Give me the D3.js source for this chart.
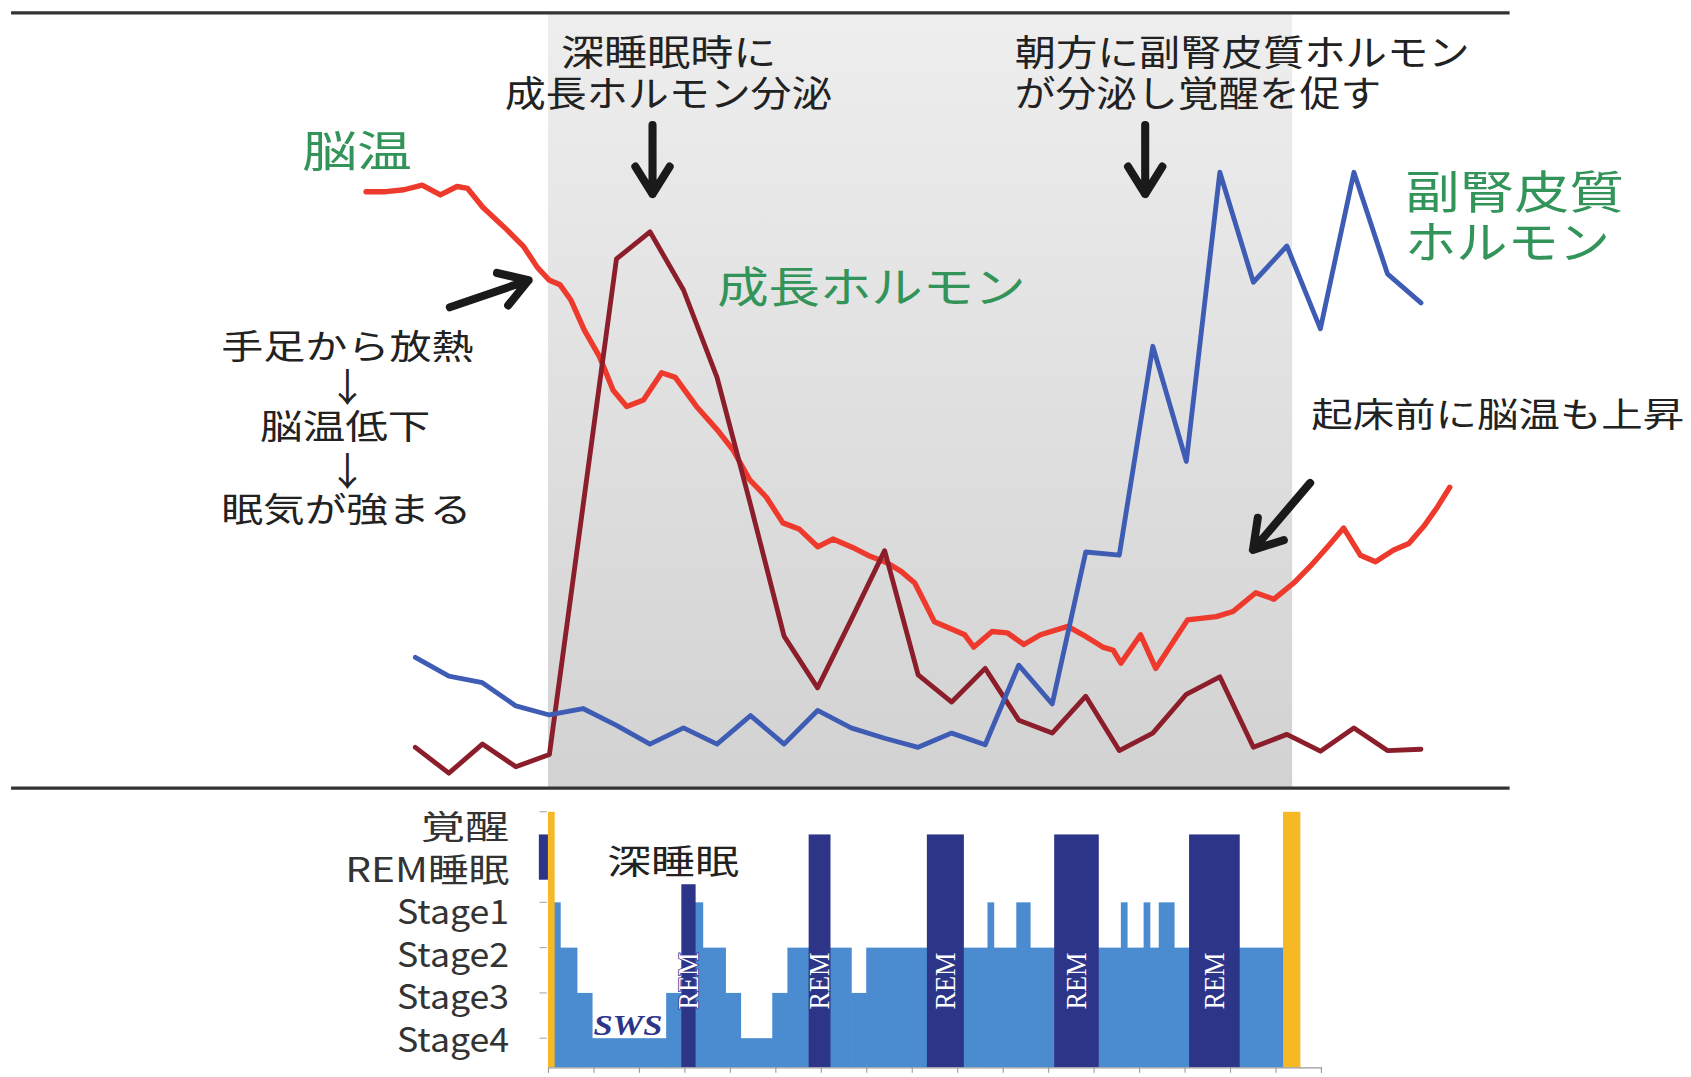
<!DOCTYPE html>
<html>
<head>
<meta charset="utf-8">
<script src="https://cdn.jsdelivr.net/npm/d3@7"></script>
<style>
  body { margin: 0; background: #fff; }
  svg { display: block; }
</style>
</head>
<body>
<svg></svg>
<script>
const width = 1568;
const height = 999;

// hormone samples, evenly spaced (index 0..30), relative level 0-100
const growthHormone = [6.3, 2.3, 6.8, 3.3, 5.2, 43.5, 81.8, 86.0, 77.0, 63.5, 43.8, 23.5, 15.5, 26.0, 36.7,
    17.5, 13.3, 18.5, 10.5, 8.5, 14.2, 5.8, 8.5, 14.5, 17.2, 6.3, 8.3, 5.7, 9.3, 5.8, 6.0];
const cortisol = [20.2, 17.3, 16.3, 12.7, 11.3, 12.3, 9.7, 6.8, 9.3, 6.8, 11.2, 6.8, 12.0, 9.3, 7.7,
    6.3, 8.5, 6.7, 19.0, 13.0, 36.5, 36.0, 68.3, 50.5, 95.2, 78.2, 83.8, 71.0, 95.2, 79.5, 75.0];

// brain temperature: minutes from sleep onset, relative level
const brainTempTime = [-120, -107, -95, -83, -71, -60, -53, -43, -27, -16, -7, 1, 8, 15, 24, 34, 43, 52, 63, 75,
    84, 98, 112, 122, 133, 144, 155, 166, 178, 188, 201, 211, 224, 233, 242, 249, 255, 265, 275, 281,
    293, 303, 314, 325, 343, 353, 366, 373, 378, 391, 401, 422, 441, 452, 467, 479, 492, 503, 514, 525,
    536, 546, 558, 568, 578, 587, 595];
const brainTemp = [92.2, 92.2, 92.5, 93.2, 91.7, 93.0, 92.7, 89.8, 86.3, 83.7, 80.5, 78.5, 77.8, 75.5, 70.8, 66.7, 61.5, 59.0, 60.0, 64.2,
    63.5, 59.0, 55.3, 52.3, 47.7, 45.0, 41.0, 40.0, 37.3, 38.5, 37.2, 36.0, 34.8, 33.5, 31.7, 28.5, 25.7, 24.7, 23.7, 21.8,
    24.2, 24.0, 22.2, 23.7, 25.0, 23.7, 21.8, 21.3, 19.3, 23.7, 18.5, 26.0, 26.5, 27.3, 30.2, 29.2, 31.7, 34.3, 37.2, 40.2,
    36.0, 35.0, 36.8, 37.8, 40.5, 43.5, 46.5];

// hypnogram
const stageNames = ['Stage4', 'Stage3', 'Stage2', 'Stage1', 'REM睡眠', '覚醒'];
const stageLevel = { 'Stage4': 1, 'Stage3': 2, 'Stage2': 3, 'Stage1': 4, 'REM': 5.5, '覚醒': 6 };
const hypnoStart = [0, 4, 8, 19, 29, 78, 88, 97, 102, 117, 127, 148, 158, 172, 186, 200, 210, 250, 274, 290,
    294, 309, 318, 334, 363, 378, 382, 393, 397, 403, 413, 423, 456, 485];
const hypnoStage = ['覚醒', 'Stage1', 'Stage2', 'Stage3', 'Stage4', 'Stage3', 'REM', 'Stage1', 'Stage2', 'Stage3',
    'Stage4', 'Stage3', 'Stage2', 'REM', 'Stage2', 'Stage3', 'Stage2', 'REM', 'Stage2', 'Stage1',
    'Stage2', 'Stage1', 'Stage2', 'REM', 'Stage2', 'Stage1', 'Stage2', 'Stage1', 'Stage2', 'Stage1',
    'Stage2', 'REM', 'Stage2', '覚醒'];
const hypnoEnd = 496;
const remTop = [4.4, 5.5, 5.5, 5.5, 5.5];
const sleepPeriod = [0, 491];
const timeTicks = [0, 30, 60, 90, 120, 150, 180, 210, 240, 270, 300, 330, 360, 390, 420, 450, 480, 510];

const JP = '"Noto Sans CJK JP", "Noto Sans", sans-serif';
const colors = {
    temp: '#ee3a2c',
    gh: '#8c1d2a',
    cort: '#3f5cb5',
    light: '#4a8ccf',
    navy: '#2d3589',
    wake: '#f6b824',
    green: '#33945a',
    text: '#222'
};

const svg = d3.select('svg')
    .attr('width', 1691).attr('height', 1077)
    .attr('viewBox', `0 0 ${width} ${height}`);

const x = d3.scaleLinear().domain([0, 510]).range([508, 1225]);
const xSample = d3.scaleLinear().domain([0, 30]).range([x(-87.5), x(576)]);
const yLine = d3.scaleLinear().domain([0, 100]).range([731, 131]);
const yStage = d3.scaleLinear().domain([1, 6]).range([963, 753]);
const yLabel = d3.scalePoint().domain(stageNames).range([962, 765]);
const hypnoBase = 990;

// ---- top panel ----
const defs = svg.append('defs');
const grad = defs.append('linearGradient').attr('id', 'bgGrad')
    .attr('x1', 0).attr('y1', 0).attr('x2', 0).attr('y2', 1);
grad.append('stop').attr('offset', '0%').attr('stop-color', '#eeeeee');
grad.append('stop').attr('offset', '100%').attr('stop-color', '#d2d2d2');

svg.append('rect')
    .attr('x', x(sleepPeriod[0])).attr('y', 13)
    .attr('width', x(sleepPeriod[1]) - x(sleepPeriod[0]))
    .attr('height', 731 - 13)
    .attr('fill', 'url(#bgGrad)');

[12, 731].forEach(yy => {
    svg.append('line')
        .attr('x1', 10).attr('x2', 1400).attr('y1', yy).attr('y2', yy)
        .attr('stroke', '#333').attr('stroke-width', 3);
});

const tempLine = d3.line()
    .x((d, i) => x(brainTempTime[i]))
    .y(d => yLine(d));
const sampleLine = d3.line()
    .x((d, i) => xSample(i))
    .y(d => yLine(d));

svg.append('path').datum(brainTemp)
    .attr('d', tempLine)
    .attr('fill', 'none').attr('stroke', colors.temp)
    .attr('stroke-width', 5).attr('stroke-linejoin', 'round').attr('stroke-linecap', 'round');

svg.append('path').datum(growthHormone)
    .attr('d', sampleLine)
    .attr('fill', 'none').attr('stroke', colors.gh)
    .attr('stroke-width', 4.5).attr('stroke-linejoin', 'round').attr('stroke-linecap', 'round');

svg.append('path').datum(cortisol)
    .attr('d', sampleLine)
    .attr('fill', 'none').attr('stroke', colors.cort)
    .attr('stroke-width', 4.5).attr('stroke-linejoin', 'round').attr('stroke-linecap', 'round');

// annotations
const notes = [
    { t: '深睡眠時に', x: 620, y: 46, a: 'middle', w: 200, s: 34, c: colors.text },
    { t: '成長ホルモン分泌', x: 620, y: 84, a: 'middle', w: 304, s: 34, c: colors.text },
    { t: '朝方に副腎皮質ホルモン', x: 941, y: 46, a: 'start', w: 422, s: 34, c: colors.text },
    { t: 'が分泌し覚醒を促す', x: 941, y: 84, a: 'start', w: 340, s: 34, c: colors.text },
    { t: '脳温', x: 280, y: 137, a: 'start', w: 102, s: 40, c: colors.green },
    { t: '成長ホルモン', x: 665, y: 263, a: 'start', w: 286, s: 40, c: colors.green },
    { t: '副腎皮質', x: 1303, y: 175, a: 'start', w: 203, s: 42, c: colors.green },
    { t: 'ホルモン', x: 1303, y: 222, a: 'start', w: 190, s: 42, c: colors.green },
    { t: '手足から放熱', x: 322, y: 319, a: 'middle', w: 234, s: 32, c: colors.text },
    { t: '↓', x: 322, y: 356, a: 'middle', w: null, s: 36, c: colors.text },
    { t: '脳温低下', x: 320, y: 393, a: 'middle', w: 158, s: 32, c: colors.text },
    { t: '↓', x: 322, y: 434, a: 'middle', w: null, s: 36, c: colors.text },
    { t: '眠気が強まる', x: 321, y: 470, a: 'middle', w: 232, s: 32, c: colors.text },
    { t: '起床前に脳温も上昇', x: 1216, y: 382, a: 'start', w: 346, s: 32, c: colors.text },
    { t: '深睡眠', x: 563, y: 797, a: 'start', w: 122, s: 32, c: colors.text }
];

notes.forEach(n => {
    const t = svg.append('text')
        .attr('x', n.x).attr('y', n.y)
        .attr('text-anchor', n.a)
        .attr('dominant-baseline', 'central')
        .attr('font-family', JP).attr('font-size', n.s)
        .attr('fill', n.c)
        .text(n.t);
    if (n.w) t.attr('textLength', n.w).attr('lengthAdjust', 'spacingAndGlyphs');
});

// thick arrows: [tail, tip]
const arrows = [
    [[605, 116], [605, 180]],
    [[1062, 116], [1062, 180]],
    [[417, 285], [490, 260]],
    [[1215, 448], [1162, 510]]
];
arrows.forEach(([p0, p1]) => {
    const ang = Math.atan2(p0[1] - p1[1], p0[0] - p1[0]);
    const L = 30, half = 32 * Math.PI / 180;
    const w1 = [p1[0] + L * Math.cos(ang + half), p1[1] + L * Math.sin(ang + half)];
    const w2 = [p1[0] + L * Math.cos(ang - half), p1[1] + L * Math.sin(ang - half)];
    svg.append('path')
        .attr('d', `M${p0}L${p1}M${w1}L${p1}L${w2}`)
        .attr('fill', 'none').attr('stroke', '#1a1a1a')
        .attr('stroke-width', 7.5)
        .attr('stroke-linecap', 'round').attr('stroke-linejoin', 'round');
});

// ---- hypnogram ----
const segs = hypnoStart.map((s, i) => ({
    start: s,
    end: i + 1 < hypnoStart.length ? hypnoStart[i + 1] : hypnoEnd,
    stage: hypnoStage[i]
}));
let remIdx = 0;
segs.forEach(d => {
    if (d.stage === 'REM') d.level = remTop[remIdx++];
    else d.level = stageLevel[d.stage];
});

// small REM marker on the axis
svg.append('rect')
    .attr('x', x(-6)).attr('width', x(0) - x(-6))
    .attr('y', yStage(5.5)).attr('height', yStage(4.5) - yStage(5.5))
    .attr('fill', colors.navy);

svg.append('g').selectAll('rect')
    .data(segs.slice().sort((a, b) => (a.stage === 'REM' || a.stage === '覚醒') - (b.stage === 'REM' || b.stage === '覚醒')))
    .join('rect')
    .attr('x', d => x(d.start))
    .attr('width', d => x(d.end) - x(d.start) + 0.6)
    .attr('y', d => yStage(d.level))
    .attr('height', d => hypnoBase - yStage(d.level))
    .attr('fill', d => d.stage === 'REM' ? colors.navy : d.stage === '覚醒' ? colors.wake : colors.light);

svg.append('g').selectAll('text')
    .data(segs.filter(d => d.stage === 'REM'))
    .join('text')
    .attr('transform', d => `translate(${x((d.start + d.end) / 2)},910) rotate(-90)`)
    .attr('text-anchor', 'middle')
    .attr('dominant-baseline', 'central')
    .attr('font-family', '"Liberation Serif", "DejaVu Serif", serif')
    .attr('font-size', 27)
    .attr('textLength', 53).attr('lengthAdjust', 'spacingAndGlyphs')
    .attr('fill', '#fff')
    .attr('stroke', colors.navy).attr('stroke-width', 1.5).attr('paint-order', 'stroke')
    .text('REM');

svg.append('text')
    .attr('x', x(30)).attr('y', 960)
    .attr('font-family', '"Liberation Serif", "DejaVu Serif", serif')
    .attr('font-style', 'italic').attr('font-weight', 'bold')
    .attr('font-size', 27)
    .attr('textLength', 64).attr('lengthAdjust', 'spacingAndGlyphs')
    .attr('fill', colors.navy)
    .text('SWS');

// bottom axis
const xAxis = svg.append('g')
    .attr('transform', `translate(0,${hypnoBase})`)
    .call(d3.axisBottom(x).tickValues(timeTicks).tickSize(5).tickFormat(''));
xAxis.selectAll('line, path').attr('stroke', '#999');

// y ticks + labels
svg.append('g').selectAll('line')
    .data([1, 2, 3, 4, 6])
    .join('line')
    .attr('x1', 500).attr('x2', 507)
    .attr('y1', d => yStage(d)).attr('y2', d => yStage(d))
    .attr('stroke', '#aaa');

const labelWidth = { 'Stage4': 104, 'Stage3': 104, 'Stage2': 104, 'Stage1': 104, 'REM睡眠': 152, '覚醒': 82 };
svg.append('g').selectAll('text')
    .data(stageNames)
    .join('text')
    .attr('x', 472).attr('y', d => yLabel(d))
    .attr('text-anchor', 'end')
    .attr('dominant-baseline', 'central')
    .attr('font-family', JP).attr('font-size', 31)
    .attr('fill', '#333')
    .attr('textLength', d => labelWidth[d]).attr('lengthAdjust', 'spacingAndGlyphs')
    .text(d => d);
</script>
</body>
</html>
